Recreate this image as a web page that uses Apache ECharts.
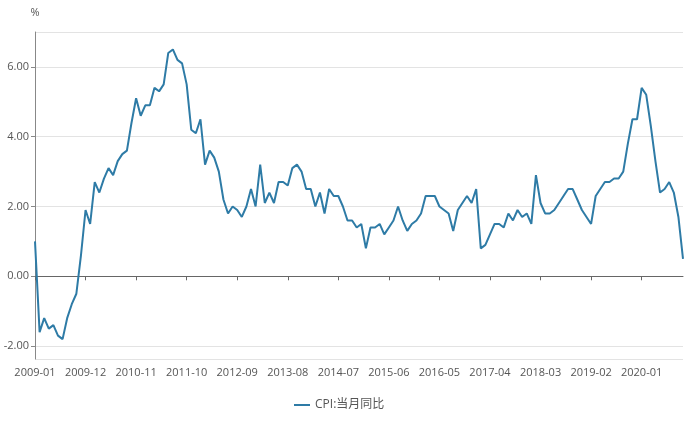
<!DOCTYPE html>
<html><head><meta charset="utf-8">
<script src="https://cdn.jsdelivr.net/npm/echarts@6/dist/echarts.min.js"></script>
<style>html,body{margin:0;padding:0;background:#fff}#c{width:700px;height:421px}</style>
</head><body><div id="c"></div>
<script>
const startYear = 2009, endYear = 2020, endMonth = 10;
const categories = [];
for (let y = startYear; y <= endYear; y++) {
  for (let m = 1; m <= 12; m++) {
    if (y === endYear && m > endMonth) break;
    categories.push(y + '-' + (m < 10 ? '0' + m : '' + m));
  }
}
const cpi2009 = [1.0, -1.6, -1.2, -1.5, -1.4, -1.7, -1.8, -1.2, -0.8, -0.5, 0.6, 1.9];
const cpi2010 = [1.5, 2.7, 2.4, 2.8, 3.1, 2.9, 3.3, 3.5, 3.6, 4.4, 5.1, 4.6];
const cpi2011 = [4.9, 4.9, 5.4, 5.3, 5.5, 6.4, 6.5, 6.2, 6.1, 5.5, 4.2, 4.1];
const cpi2012 = [4.5, 3.2, 3.6, 3.4, 3.0, 2.2, 1.8, 2.0, 1.9, 1.7, 2.0, 2.5];
const cpi2013 = [2.0, 3.2, 2.1, 2.4, 2.1, 2.7, 2.7, 2.6, 3.1, 3.2, 3.0, 2.5];
const cpi2014 = [2.5, 2.0, 2.4, 1.8, 2.5, 2.3, 2.3, 2.0, 1.6, 1.6, 1.4, 1.5];
const cpi2015 = [0.8, 1.4, 1.4, 1.5, 1.2, 1.4, 1.6, 2.0, 1.6, 1.3, 1.5, 1.6];
const cpi2016 = [1.8, 2.3, 2.3, 2.3, 2.0, 1.9, 1.8, 1.3, 1.9, 2.1, 2.3, 2.1];
const cpi2017 = [2.5, 0.8, 0.9, 1.2, 1.5, 1.5, 1.4, 1.8, 1.6, 1.9, 1.7, 1.8];
const cpi2018 = [1.5, 2.9, 2.1, 1.8, 1.8, 1.9, 2.1, 2.3, 2.5, 2.5, 2.2, 1.9];
const cpi2019 = [1.7, 1.5, 2.3, 2.5, 2.7, 2.7, 2.8, 2.8, 3.0, 3.8, 4.5, 4.5];
const cpi2020 = [5.4, 5.2, 4.3, 3.3, 2.4, 2.5, 2.7, 2.4, 1.7, 0.5];
const cpiValues = [].concat(cpi2009, cpi2010, cpi2011, cpi2012, cpi2013, cpi2014,
  cpi2015, cpi2016, cpi2017, cpi2018, cpi2019, cpi2020);
const seriesName = 'CPI:当月同比';
const yMin = -2.37, yMax = 7;

const chart = echarts.init(document.getElementById('c'));
const font = '"Open Sans", "Noto Sans CJK SC", sans-serif';
chart.setOption({
  animation: false,
  textStyle: { fontFamily: font },
  grid: { left: 35, right: 17, top: 32, bottom: 62 },
  legend: {
    data: [{ name: seriesName, icon: 'rect' }],
    left: 289, top: 394,
    itemWidth: 16, itemHeight: 2, itemGap: 8,
    textStyle: { color: '#555', fontSize: 12, fontFamily: font }
  },
  xAxis: [{
    type: 'category', data: categories, boundaryGap: false, position: 'bottom',
    axisLine: { show: false, onZero: false },
    axisTick: { show: false },
    axisLabel: { interval: 10, color: '#555', fontSize: 11, margin: 8 }
  }, {
    type: 'category', data: categories, boundaryGap: false, position: 'bottom',
    axisLine: { show: true, onZero: true, lineStyle: { color: '#666', width: 1 } },
    axisTick: { show: true, interval: 10, length: 4, lineStyle: { color: '#666' } },
    axisLabel: { show: false }
  }],
  yAxis: {
    type: 'value', min: yMin, max: yMax, splitNumber: 5,
    name: '%', nameLocation: 'end', nameGap: 14,
    nameTextStyle: { color: '#555', fontSize: 11, align: 'center' },
    axisLine: { show: true, lineStyle: { color: '#888' } },
    axisTick: { show: true, length: 4, lineStyle: { color: '#888' } },
    axisLabel: {
      color: '#555', fontSize: 11, margin: 6,
      showMinLabel: false, showMaxLabel: false,
      formatter: v => v.toFixed(2)
    },
    splitLine: { show: true, lineStyle: { color: '#e3e3e3' } }
  },
  series: [{
    name: seriesName, type: 'line', data: cpiValues,
    xAxisIndex: 0, symbol: 'none',
    lineStyle: { color: '#2e7ba6', width: 2 },
    itemStyle: { color: '#2e7ba6' }
  }]
});
</script>
</body></html>
